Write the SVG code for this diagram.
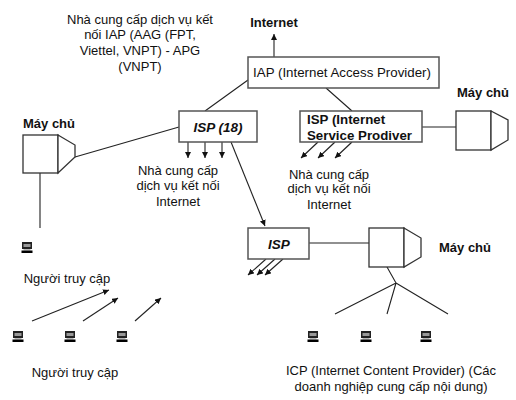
<svg xmlns="http://www.w3.org/2000/svg" width="516" height="400" viewBox="0 0 516 400">
<style>
text{font-family:"Liberation Sans",Arial,sans-serif;font-size:13px;fill:#111;text-anchor:middle}
.b{font-weight:bold}
.i{font-weight:bold;font-style:italic;font-size:13.5px}
.s{font-weight:bold;font-size:13.3px;text-anchor:start}
.box{fill:#fff;stroke:#555;stroke-width:1.5}
.srv{fill:#fff;stroke:#333;stroke-width:1.3}
.ln{fill:none;stroke:#222;stroke-width:1.1}
.ar{fill:none;stroke:#222;stroke-width:1.1;marker-end:url(#a)}
</style>
<defs>
<marker id="a" markerUnits="userSpaceOnUse" markerWidth="7" markerHeight="7" refX="6" refY="3" orient="auto"><path d="M0,0L6,3L0,6z" fill="#111"/></marker>
<g id="pc"><rect x="0.5" y="0" width="10" height="7" fill="#222"/><rect x="2" y="2" width="7" height="3" fill="#999"/><rect x="2" y="7" width="7" height="1.5" fill="#bbb"/><rect x="0" y="8.5" width="11" height="2.5" fill="#000"/></g>
</defs>
<g id="connectors">
<path class="ar" d="M274,57V34"/>
<path class="ln" d="M248,80L205,111M326,88L352,111M179,127L75,157M422,127H456M309,243H369M40,173V228"/>
<path class="ar" d="M188,142V158"/><path class="ar" d="M205,142V158"/><path class="ar" d="M222,142V158"/>
<path class="ar" d="M318,142L301,158"/><path class="ar" d="M335,142L318,158"/><path class="ar" d="M352,142L335,158"/>
<path class="ar" d="M231,142L265,226"/>
<path class="ar" d="M266,259L248,275"/><path class="ar" d="M275,259L257,275"/><path class="ar" d="M283,259L265,275"/>
<path class="ln" d="M387,267L396,283M396,283L335,314M396,283L387,314M396,283L448,314"/>
<path class="ar" d="M32,321L109,290"/><path class="ar" d="M83,321L118,298"/><path class="ar" d="M135,321L161,298"/>
</g>
<g id="iap-label"><text x="140" y="24">Nhà cung cấp dịch vụ kết</text><text x="140" y="39">nối IAP (AAG (FPT,</text><text x="140" y="55">Viettel, VNPT) - APG</text><text x="140" y="71">(VNPT)</text></g>
<g id="internet"><text class="b" x="274" y="27">Internet</text></g>
<g id="iap"><rect class="box" x="248" y="57" width="191" height="31"/><text x="342" y="77" style="font-size:13.3px">IAP (Internet Access Provider)</text></g>
<g id="isp18"><rect class="box" x="179" y="111" width="78" height="31"/><text class="i" x="218" y="132">ISP (18)</text></g>
<g id="isp-service"><rect class="box" x="300" y="111" width="122" height="31"/><text class="s" x="307" y="124">ISP (Internet</text><text class="s" x="307" y="140">Service Prodiver</text></g>
<g id="isp-lower"><rect class="box" x="248" y="228" width="61" height="31"/><text class="i" x="279" y="249">ISP</text></g>
<g id="server-left"><text class="b" x="49" y="128">Máy chủ</text><rect class="srv" x="23" y="135" width="35" height="38"/><path class="srv" d="M58,135L75,145V157L58,173z"/></g>
<g id="server-right"><text class="b" x="483" y="97">Máy chủ</text><rect class="srv" x="456" y="111" width="35" height="39"/><path class="srv" d="M491,111L508,120V140L491,150z"/></g>
<g id="server-lower"><text class="b" x="465" y="252">Máy chủ</text><rect class="srv" x="369" y="228" width="35" height="39"/><path class="srv" d="M404,228L421,238V257L404,267z"/></g>
<g id="isp18-label"><text x="178" y="175">Nhà cung cấp</text><text x="178" y="190">dịch vụ kết nối</text><text x="178" y="206">Internet</text></g>
<g id="isp-service-label"><text x="329" y="179">Nhà cung cấp</text><text x="329" y="193">dịch vụ kết nối</text><text x="329" y="209">Internet</text></g>
<g id="users-a"><use href="#pc" x="21.500" y="242"/><text x="67" y="283">Người truy cập</text></g>
<g id="users-b"><use href="#pc" x="12.500" y="331"/><use href="#pc" x="64.500" y="331"/><use href="#pc" x="116.500" y="331"/><text x="75" y="377">Người truy cập</text></g>
<g id="icp"><use href="#pc" x="307.500" y="331"/><use href="#pc" x="360.500" y="331"/><use href="#pc" x="420.500" y="331"/><text x="391" y="375">ICP (Internet Content Provider) (Các</text><text x="391" y="391">doanh nghiệp cung cấp nội dung)</text></g>
</svg>
